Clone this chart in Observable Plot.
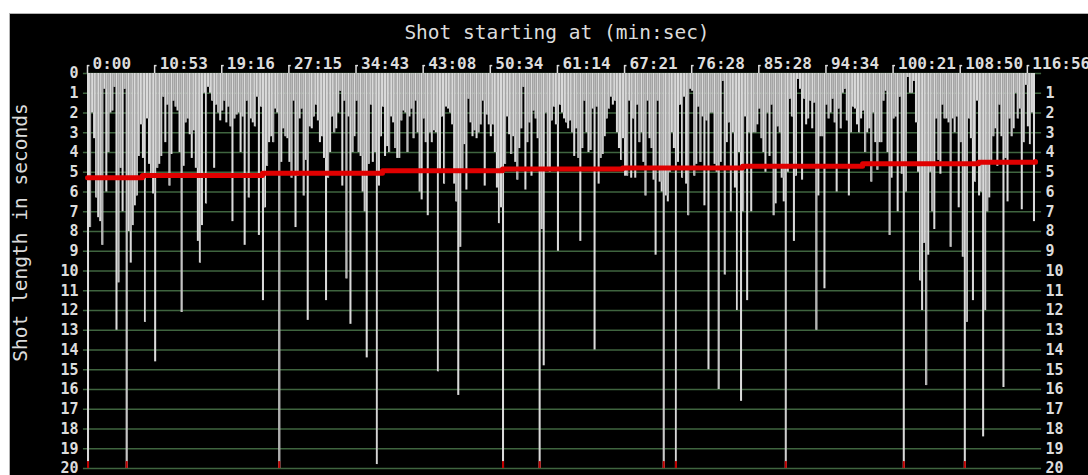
<!DOCTYPE html>
<html><head><meta charset="utf-8">
<script src="https://cdn.jsdelivr.net/npm/d3@7"></script>
<script src="https://cdn.jsdelivr.net/npm/@observablehq/plot@0.6"></script>
<style>
html,body{margin:0;padding:0;background:#fff;width:1088px;height:475px;overflow:hidden;}
#frame{position:absolute;left:9px;top:13px;width:1078px;height:461px;background:#000;border-top:1px solid #b4b4b4;border-left:1px solid #b4b4b4;overflow:hidden;}
#frame svg{display:block;}
</style></head><body><div id="frame"></div>
<script>
// Shot lengths (seconds), one value per bar, read left to right
const shotLengths = [
20, 7.8, 2.0, 3.3, 6.3, 7.3, 7.5, 8.7, 0.8, 6.0,
4.0, 2.0, 1.9, 0.7, 13.0, 10.6, 4.8, 7.0, 0.8, 20,
8.0, 9.6, 7.7, 6.7, 6.2, 4.2, 2.6, 4.3, 12.6, 2.3,
4.6, 5.3, 6.1, 14.6, 4.8, 4.6, 4.2, 1.2, 3.5, 1.6,
5.7, 4.1, 1.4, 1.7, 1.9, 4.0, 12.1, 4.7, 2.5, 2.3,
3.1, 4.3, 2.9, 4.8, 8.5, 9.6, 7.7, 1.0, 6.6, 0.7,
1.0, 1.4, 4.8, 1.6, 2.0, 2.4, 1.9, 1.4, 2.5, 1.7,
2.7, 7.5, 2.3, 2.1, 2.0, 4.0, 2.2, 8.7,
1.4, 6.3, 2.3, 2.5, 2.7, 1.2, 8.2, 1.7, 11.5, 6.8,
4.7, 3.5, 3.2, 3.5, 1.8, 2.0, 20, 4.5, 2.8, 3.2,
3.3, 4.5, 5.3, 1.4, 7.8, 5.2, 2.3, 1.8, 6.2, 4.4,
12.5, 2.7, 2.8, 2.2, 1.6, 2.4, 3.5, 3.2, 4.3, 11.5,
5.3, 4.0, 2.2, 3.0, 2.8, 2.0, 0.9, 5.7, 1.4, 10.4,
2.2, 12.7, 4.0, 3.2, 1.4, 4.0, 4.2, 6.0, 7.0, 14.4,
4.6, 1.6, 4.5, 4.0, 19.8, 5.7, 3.2, 1.7, 4.2, 3.7,
4.0, 2.2, 2.5, 3.8, 4.3, 4.3,
2.4, 1.9, 2.0, 4.0, 2.2, 1.8, 3.3, 1.4, 3.0, 6.0,
6.4, 2.3, 3.5, 7.2, 3.0, 3.5, 2.9, 3.0, 15.1, 5.0,
2.2, 5.6, 1.7, 1.8, 2.0, 2.6, 5.6, 6.5, 16.3, 8.8,
5.0, 3.6, 5.9, 1.3, 2.5, 3.2, 2.9, 3.3, 3.0, 2.6,
1.4, 5.7, 2.1, 2.6, 3.2, 2.6, 4.0, 5.8, 7.6, 6.8,
20, 4.6, 2.2, 3.1, 4.1, 3.2, 4.5, 5.4, 3.8, 2.8,
0.7, 5.9, 3.5, 2.5, 5.2, 1.9, 2.3, 3.3, 20, 7.9,
14.8, 2.0, 4.9, 5.0, 2.4, 1.7, 2.6,
9.0, 1.6, 2.0, 2.3, 2.5, 2.8, 2.4, 3.0, 4.2, 2.8,
4.3, 8.5, 3.8, 1.4, 3.0, 4.0, 3.9, 1.8, 14.0, 1.7,
5.6, 4.3, 4.1, 3.2, 2.3, 1.8, 1.2, 1.6, 1.4, 3.0,
3.8, 4.4, 3.3, 5.2, 5.2, 1.4, 5.3, 2.3, 5.3, 1.6,
3.5, 3.0, 4.5, 6.2, 1.4, 3.3, 3.8, 5.4, 9.2, 1.4,
5.5, 6.0, 20, 6.2, 6.5, 5.0, 3.0, 3.8, 20, 4.5,
1.6, 5.3, 1.2, 5.6, 7.2, 0.8, 0.9, 5.2, 4.6, 1.7,
4.5, 2.2, 6.7, 2.4, 15.0, 2.0,
2.0, 4.6, 5.0, 16.0, 4.5, 0.4, 10.2, 3.5, 2.5, 7.0,
3.0, 5.8, 12.0, 4.0, 16.6, 7.0, 2.2, 11.5, 3.0, 7.0,
3.0, 3.0, 2.6, 1.8, 3.3, 4.0, 5.0, 2.0, 4.2, 1.6,
7.2, 6.6, 2.7, 3.0, 5.3, 6.5, 20, 5.0, 1.3, 2.2,
8.5, 5.2, 0.3, 0.8, 5.4, 1.3, 2.6, 2.3, 1.4, 2.8,
1.5, 13.0, 6.2, 3.2, 3.2, 10.9, 1.6, 2.3, 2.0, 1.3,
2.5, 6.0, 1.8, 2.8, 1.0, 0.8, 2.4, 6.2, 3.0, 1.7,
1.8, 2.6, 3.0, 2.3, 1.9, 4.0,
3.0, 2.8, 5.5, 2.0, 3.5, 4.9, 3.5, 3.5, 1.4, 0.9,
4.0, 8.2, 5.3, 2.3, 2.2, 7.0, 1.2, 5.1, 20, 6.0,
0.2, 1.0, 1.0, 0.4, 2.5, 5.0, 10.5, 12.0, 8.6, 15.8,
9.2, 5.0, 7.0, 7.9, 2.3, 4.4, 5.1, 1.6, 2.3, 2.3,
2.5, 8.8, 2.3, 3.0, 2.2, 6.8, 3.5, 9.3, 20, 12.6,
2.3, 3.3, 11.5, 5.5, 1.4, 6.2, 6.0, 18.4, 12.0, 7.0,
6.3, 4.5, 3.2, 2.8, 4.7, 1.6, 3.2, 15.9, 4.3, 6.5,
2.3, 3.2, 2.8, 1.0, 2.3, 1.8, 6.9, 3.5, 0.6, 2.7,
3.6, 2.0, 7.5
];

// Top axis: bar index of each tick and its start-time label
const tickIndex = [0, 33, 66, 99, 132, 165, 198, 231, 264, 297, 330, 363, 396, 429, 462];
const tickLabels = ["0:00", "10:53", "19:16", "27:15", "34:43", "43:08", "50:34", "61:14",
                    "67:21", "76:28", "85:28", "94:34", "100:21", "108:50", "116:56"];

// Vertical axis ticks (seconds): left side from 0, right side from 1
const yTicksLeft = [0,1,2,3,4,5,6,7,8,9,10,11,12,13,14,15,16,17,18,19,20];
const yTicksRight = [1,2,3,4,5,6,7,8,9,10,11,12,13,14,15,16,17,18,19,20];

// Running average line (red): bar index -> seconds
const avgIndex = [0, 27, 86, 145, 204, 263, 322, 381, 438, 466];
const avgValue = [5.28, 5.17, 5.05, 4.92, 4.83, 4.78, 4.69, 4.57, 4.49, 4.45];

const yMax = 20;
const nBars = shotLengths.length;
const bars = shotLengths.map((v, i) => ({i, v}));
const clipped = bars.filter(d => d.v >= yMax);
const avg = avgIndex.map((x, k) => ({x, y: avgValue[k]}));
// separator stripes inside the grey region (every 1.5 bars)
const seps = d3.range(1, Math.floor(nBars / 1.5)).map(k => {
  const x = k * 1.5;
  const a = shotLengths[Math.min(nBars - 1, Math.floor(x - 0.01))];
  const b = shotLengths[Math.min(nBars - 1, Math.floor(x))];
  return {x, y: Math.min(a, b)};
});

const txt = "#dcdcdc";
const chart = Plot.plot({
  width: 1078,
  height: 461,
  marginLeft: 77,
  marginRight: 53,
  marginTop: 59,
  marginBottom: 7,
  x: {domain: [0, nBars], axis: null},
  y: {domain: [0, yMax], reverse: true},
  style: {background: "#000", color: txt, fontFamily: "'DejaVu Sans Mono', monospace", fontSize: "15px", overflow: "visible"},
  marks: [
    Plot.ruleY(yTicksLeft, {y: d => d, x1: -2, x2: nBars + 3, stroke: "#3f643f", strokeWidth: 1.5}),
    Plot.rect(bars, {x1: "i", x2: d => d.i + 1, y1: 0, y2: "v", fill: "#dadada"}),
    Plot.ruleX(seps, {x: "x", y1: 0, y2: "y", stroke: "#a2a2a2", strokeWidth: 1}),
    Plot.line(avg, {x: "x", y: "y", curve: "step-after", stroke: "#e00000", strokeWidth: 5}),
    Plot.rect(clipped, {x1: "i", x2: d => d.i + 1, y1: yMax - 0.35, y2: yMax, fill: "#c00000"}),
    Plot.ruleX(tickIndex, {x: d => d, y1: -0.4, y2: 0, stroke: txt, strokeWidth: 1.5}),
    Plot.ruleY(tickIndex, {y: -0.4, x1: d => d, x2: d => d + 1.2, stroke: txt, strokeWidth: 1.5}),
    Plot.text(tickIndex, {x: d => d, y: 0, text: (d, k) => tickLabels[k], textAnchor: "start", lineAnchor: "middle",
      dx: 5, dy: -10, fontSize: 16, fontWeight: "bold", fill: txt}),
    Plot.axisY(yTicksLeft, {anchor: "left", tickSize: 0, tickPadding: 9, fontSize: 15, fontWeight: "bold", color: txt, label: null}),
    Plot.axisY(yTicksRight, {anchor: "right", tickSize: 0, tickPadding: 10, fontSize: 15, fontWeight: "bold", color: txt, label: null}),
    Plot.text(["Shot starting at (min:sec)"], {frameAnchor: "top", textAnchor: "middle", dx: -4.5, dy: -41, lineAnchor: "middle", fontSize: 19.5, fill: txt}),
    Plot.text(["Shot length in seconds"], {frameAnchor: "left", textAnchor: "middle", dx: -67, dy: -38.5, rotate: -90, lineAnchor: "middle", fontSize: 19.5, fill: txt})
  ]
});
document.getElementById("frame").appendChild(chart);
</script>
</body></html>
